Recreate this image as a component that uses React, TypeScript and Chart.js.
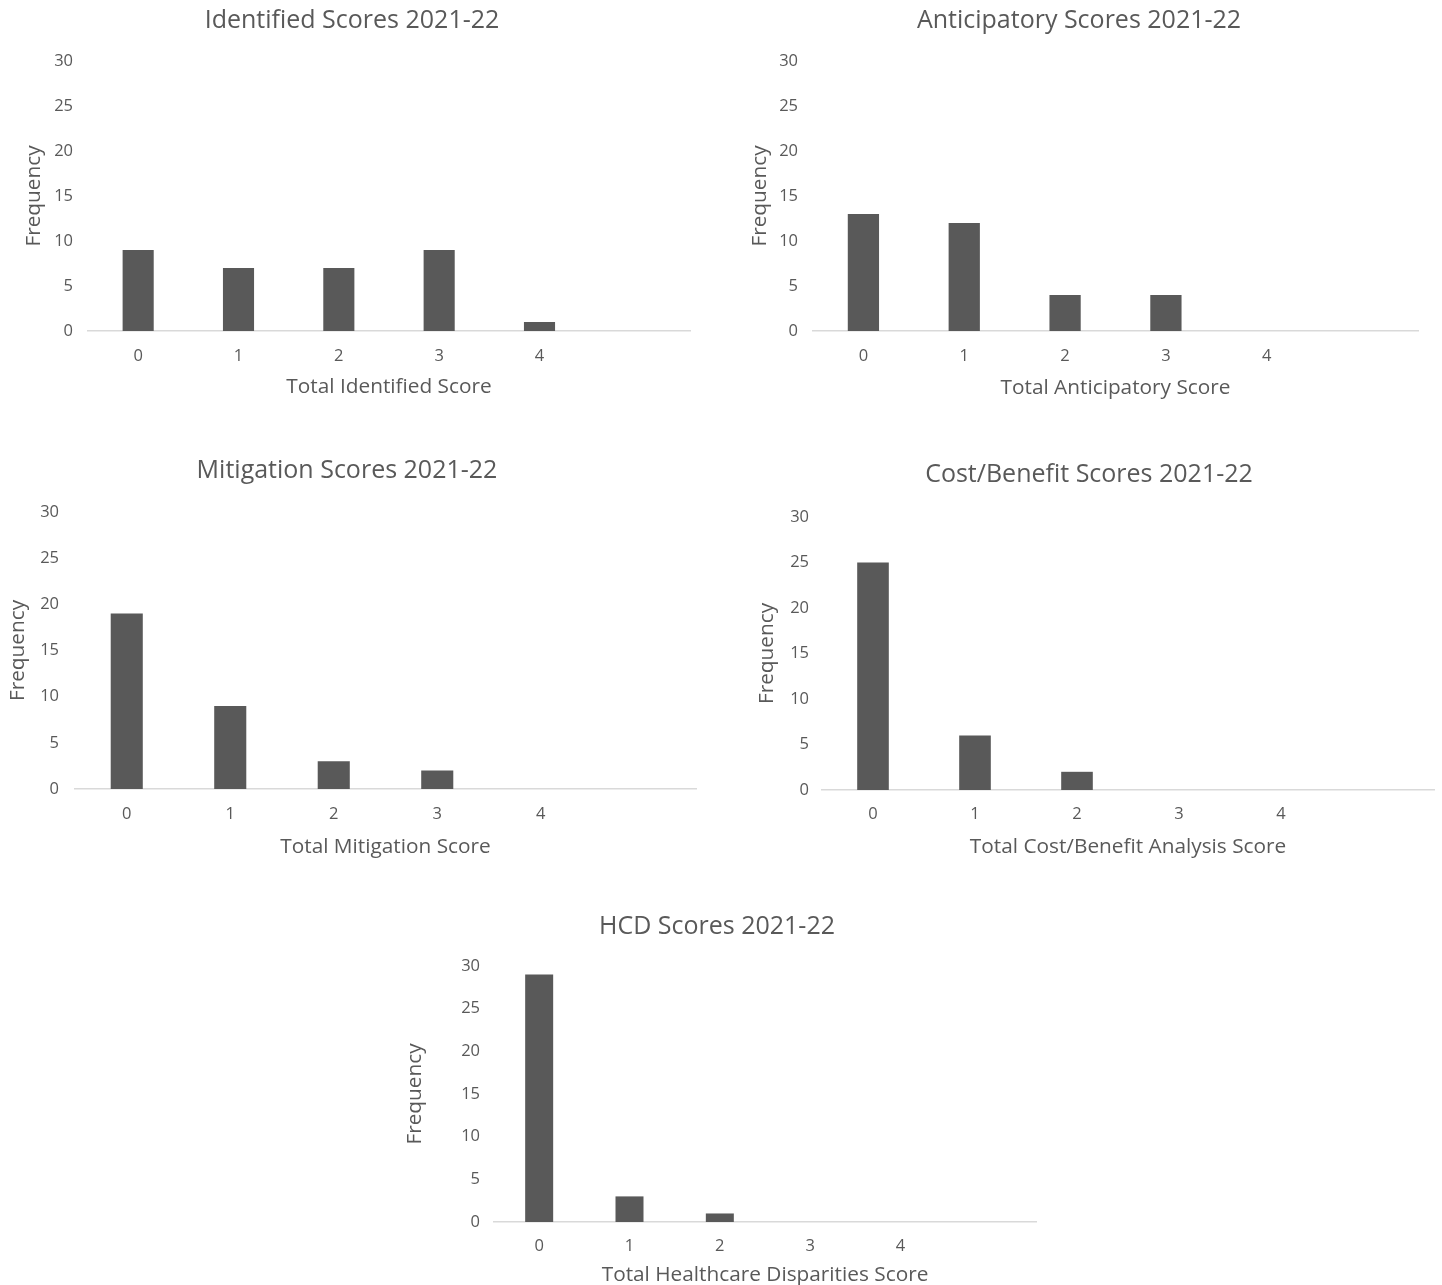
import React, { useEffect, useRef } from "react";
import { Chart, registerables } from "chart.js";

Chart.register(...registerables);

// Score categories (the sixth slot is an empty band, as in the original workbook)
const scoreLabels = ["0", "1", "2", "3", "4", ""];

// Frequencies per total score
const identifiedCounts = [9, 7, 7, 9, 1];
const anticipatoryCounts = [13, 12, 4, 4, 0];
const mitigationCounts = [19, 9, 3, 2, 0];
const costBenefitCounts = [25, 6, 2, 0, 0];
const hcdCounts = [29, 3, 1, 0, 0];

const yTicks = { min: 0, max: 30, step: 5 };

const TEXT = "#595959";
const BAR = "#595959";
const AXIS = "#d9d9d9";
const FONT = "'Open Sans', 'Noto Sans', sans-serif";

type Panel = {
  title: string;
  xTitle: string;
  data: number[];
  box: { left: number; top: number; width: number; height: number };
  plot: { left: number; right: number; top: number; bottom: number };
  titleAt: { x: number; y: number };
  yTitleX: number;
  yTickGap: number;
  xTickGap: number;
  xTitleY: number;
};

const panels: Panel[] = [
  {
    title: "Identified Scores 2021-22",
    xTitle: "Total Identified Score",
    data: identifiedCounts,
    box: { left: 0, top: 0, width: 720, height: 410 },
    plot: { left: 88, right: 690, top: 61, bottom: 331 },
    titleAt: { x: 352, y: 21 },
    yTitleX: 34,
    yTickGap: 15,
    xTickGap: 15,
    xTitleY: 387,
  },
  {
    title: "Anticipatory Scores 2021-22",
    xTitle: "Total Anticipatory Score",
    data: anticipatoryCounts,
    box: { left: 722, top: 0, width: 720, height: 410 },
    plot: { left: 813, right: 1418, top: 61, bottom: 331 },
    titleAt: { x: 1079, y: 21 },
    yTitleX: 760,
    yTickGap: 15,
    xTickGap: 15,
    xTitleY: 388,
  },
  {
    title: "Mitigation Scores 2021-22",
    xTitle: "Total Mitigation Score",
    data: mitigationCounts,
    box: { left: 0, top: 440, width: 720, height: 430 },
    plot: { left: 75, right: 696, top: 512, bottom: 789 },
    titleAt: { x: 347, y: 471 },
    yTitleX: 18,
    yTickGap: 16,
    xTickGap: 15,
    xTitleY: 847,
  },
  {
    title: "Cost/Benefit Scores 2021-22",
    xTitle: "Total Cost/Benefit Analysis Score",
    data: costBenefitCounts,
    box: { left: 722, top: 440, width: 720, height: 430 },
    plot: { left: 822, right: 1434, top: 517, bottom: 790 },
    titleAt: { x: 1089, y: 475 },
    yTitleX: 767,
    yTickGap: 13,
    xTickGap: 14,
    xTitleY: 847,
  },
  {
    title: "HCD Scores 2021-22",
    xTitle: "Total Healthcare Disparities Score",
    data: hcdCounts,
    box: { left: 380, top: 890, width: 680, height: 395 },
    plot: { left: 494, right: 1036, top: 966, bottom: 1222 },
    titleAt: { x: 717, y: 927 },
    yTitleX: 415,
    yTickGap: 14,
    xTickGap: 14,
    xTitleY: 1275,
  },
];

function ScoreChart({ p }: { p: Panel }) {
  const ref = useRef<HTMLCanvasElement | null>(null);

  useEffect(() => {
    if (!ref.current) return;
    const { box, plot } = p;
    const yAxisWidth = plot.left - box.left;
    const xAxisHeight = box.top + box.height - plot.bottom;
    const tickFontSize = 16.5;
    const axisTitleSize = 20.8;
    const xTitleBottomPad = Math.max(0, box.top + box.height - p.xTitleY - axisTitleSize / 2);
    const yTitleTopPad = p.yTitleX - box.left - (axisTitleSize * 1.2) / 2;

    const titlePlugin = {
      id: "panelTitle",
      afterDraw(chart: Chart) {
        const ctx = chart.ctx;
        ctx.save();
        ctx.font = `25px ${FONT}`;
        ctx.fillStyle = TEXT;
        ctx.textAlign = "center";
        ctx.textBaseline = "middle";
        ctx.fillText(p.title, p.titleAt.x - box.left, p.titleAt.y - box.top);
        ctx.restore();
      },
    };

    const chart = new Chart(ref.current, {
      type: "bar",
      data: {
        labels: scoreLabels,
        datasets: [
          {
            data: p.data,
            backgroundColor: BAR,
            borderWidth: 0,
            barPercentage: 0.31,
            categoryPercentage: 1,
          },
        ],
      },
      options: {
        animation: false,
        responsive: false,
        maintainAspectRatio: false,
        devicePixelRatio: 1,
        layout: {
          padding: {
            top: plot.top - box.top,
            right: box.left + box.width - plot.right,
            left: 0,
            bottom: 0,
          },
        },
        plugins: {
          legend: { display: false },
          tooltip: { enabled: false },
          title: { display: false },
        },
        scales: {
          x: {
            type: "category",
            offset: true,
            grid: { display: false, drawTicks: false },
            border: { display: true, color: AXIS, width: 1.5 },
            ticks: {
              color: TEXT,
              font: { family: FONT, size: tickFontSize },
              padding: p.xTickGap,
              maxRotation: 0,
              autoSkip: false,
            },
            title: {
              display: true,
              text: p.xTitle,
              color: TEXT,
              font: { family: FONT, size: axisTitleSize, lineHeight: 1 },
              padding: { top: 0, bottom: xTitleBottomPad },
            },
            afterFit(scale: any) {
              scale.height = xAxisHeight;
            },
          },
          y: {
            min: yTicks.min,
            max: yTicks.max,
            grid: { display: false, drawTicks: false },
            border: { display: false },
            ticks: {
              stepSize: yTicks.step,
              color: TEXT,
              font: { family: FONT, size: tickFontSize },
              padding: p.yTickGap,
            },
            title: {
              display: true,
              text: "Frequency",
              color: TEXT,
              font: { family: FONT, size: axisTitleSize },
              padding: { top: yTitleTopPad, bottom: 0 },
            },
            afterFit(scale: any) {
              scale.width = yAxisWidth;
            },
          },
        },
      },
      plugins: [titlePlugin],
    });

    return () => chart.destroy();
  }, [p]);

  return (
    <canvas
      ref={ref}
      width={p.box.width}
      height={p.box.height}
      style={{
        position: "absolute",
        left: p.box.left,
        top: p.box.top,
        width: p.box.width,
        height: p.box.height,
      }}
    />
  );
}

export default function App() {
  return (
    <div
      style={{
        position: "absolute",
        left: 0,
        top: 0,
        width: 1442,
        height: 1285,
        background: "#ffffff",
        overflow: "hidden",
      }}
    >
      {panels.map((p) => (
        <ScoreChart key={p.title} p={p} />
      ))}
    </div>
  );
}
